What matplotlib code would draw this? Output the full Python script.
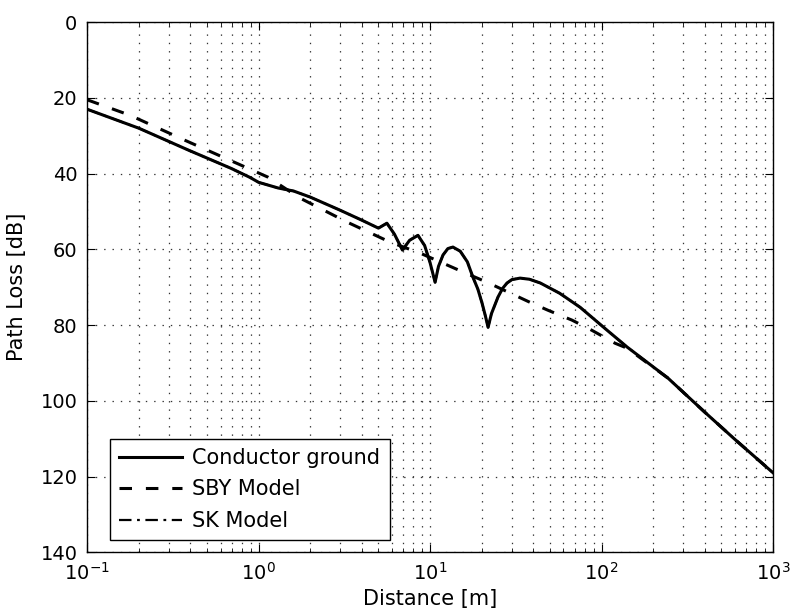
import numpy as np
import matplotlib
matplotlib.use("Agg")
import matplotlib.pyplot as plt
from matplotlib.ticker import LogLocator, MultipleLocator

plt.rcParams['font.family'] = ['DejaVu Sans']
plt.rcParams['mathtext.default'] = 'regular'
plt.rcParams['lines.scale_dashes'] = False

# Conductor ground (solid)
cg_d = [0.1, 0.2, 0.39, 0.69, 0.89, 1.0, 1.3, 1.6, 2.0, 3.0, 4.0, 5.0, 5.6, 6.2, 6.9,
        7.6, 8.5, 9.3, 10.0, 10.7, 11.2, 11.9, 12.7, 13.6, 15.0, 16.5, 17.8, 19.0,
        20.1, 21.0, 21.8, 22.8, 24.9, 26.5, 28.1, 30.0, 33.5, 38.0, 44.0, 57.0,
        75.0, 108.0, 141.0, 244.0, 400.0, 600.0, 1000.0]
cg_pl = [23.0, 28.0, 33.8, 38.6, 41.0, 42.3, 43.8, 44.6, 46.2, 49.7, 52.3, 54.4, 53.1, 56.0, 60.2,
         57.6, 56.3, 59.0, 63.5, 68.7, 64.5, 61.5, 59.8, 59.4, 60.5, 63.3, 67.4, 70.5,
         74.2, 77.5, 80.6, 77.0, 72.6, 70.3, 68.9, 68.0, 67.6, 67.9, 68.9, 71.6,
         75.3, 81.4, 85.8, 94.0, 103.0, 110.2, 119.0]

# SBY model (dashed)
sby_d = [0.1, 0.178, 0.372, 1.13, 1.75, 3.28, 5.85, 8.75, 15.6, 21.5, 38.3, 48.8,
         67.3, 88.0, 120.0, 141.0, 244.0, 400.0, 600.0, 1000.0]
sby_pl = [20.5, 24.6, 31.2, 40.9, 46.5, 52.8, 58.1, 61.0, 66.0, 68.7, 74.0, 76.1,
          78.7, 81.4, 84.8, 86.1, 94.0, 103.0, 110.2, 119.0]

# SK model (dash-dot) lies under the conductor ground curve
sk_d = list(cg_d)
sk_pl = list(cg_pl)

fig = plt.figure(figsize=(7.92, 6.15), dpi=100)
ax = fig.add_axes([0.110, 0.102, 0.866, 0.862])

ax.plot(sk_d, sk_pl, color='black', lw=1.6, dashes=(9, 4, 2, 4), label='SK Model')
ax.plot(sby_d, sby_pl, color='black', lw=2.2, dashes=(9, 10), label='SBY Model')
ax.plot(cg_d, cg_pl, color='black', lw=2.2, solid_joinstyle='round', label='Conductor ground')

ax.set_xscale('log')
ax.set_xlim(0.1, 1000)
ax.set_ylim(140, 0)
ax.yaxis.set_major_locator(MultipleLocator(20))
ax.xaxis.set_minor_locator(LogLocator(base=10, subs=np.arange(2, 10)))

ax.grid(True, which='major', color='0.2', linestyle=(0, (1, 5)), lw=0.9)
ax.grid(True, which='minor', axis='x', color='0.2', linestyle=(0, (1, 5)), lw=0.9)

ax.tick_params(which='both', direction='in', top=True, right=True, labelsize=14, pad=7)
ax.tick_params(which='major', length=6)
ax.tick_params(which='minor', length=3)
for s in ax.spines.values():
    s.set_linewidth(1.0)

ax.set_xlabel('Distance [m]', fontsize=15, labelpad=4)
ax.set_ylabel('Path Loss [dB]', fontsize=15, labelpad=10)

h, l = ax.get_legend_handles_labels()
leg = ax.legend(h[::-1], l[::-1], loc='lower left', bbox_to_anchor=(0.0335, 0.0226),
                borderaxespad=0, fontsize=15, handlelength=3.0, handletextpad=0.5,
                labelspacing=0.55, borderpad=0.45, fancybox=False,
                framealpha=1, edgecolor='black')
leg.get_frame().set_linewidth(1.0)

fig.savefig('out.png', dpi=100)
